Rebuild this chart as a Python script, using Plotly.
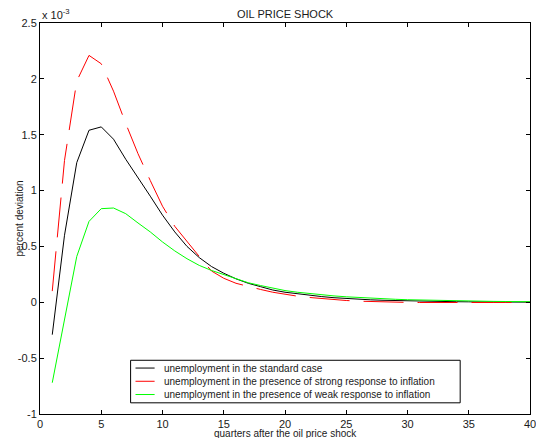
import plotly.graph_objects as go

quarters = list(range(1, 41))

# values in units of 1e-3 (percent deviation)
standard = [-0.29, 0.60, 1.25, 1.54, 1.57, 1.46, 1.28, 1.12, 0.95, 0.78,
            0.63, 0.50, 0.40, 0.32, 0.26, 0.21, 0.17, 0.14, 0.11, 0.09,
            0.075, 0.062, 0.051, 0.041, 0.033, 0.027, 0.022, 0.018, 0.015, 0.012,
            0.010, 0.008, 0.006, 0.005, 0.004, 0.003, 0.002, 0.002, 0.001, 0.001]

strong = [0.10, 1.27, 1.98, 2.21, 2.135, 1.89, 1.60, 1.33, 1.09, 0.86,
          0.68, 0.54, 0.41, 0.28, 0.215, 0.17, 0.14, 0.115, 0.09, 0.07,
          0.055, 0.043, 0.032, 0.024, 0.016, 0.010, 0.006, 0.003, 0.001, -0.001,
          -0.002, -0.003, -0.003, -0.003, -0.003, -0.002, -0.002, -0.001, -0.001, -0.001]

weak = [-0.72, -0.14, 0.41, 0.724, 0.838, 0.844, 0.793, 0.71, 0.63, 0.54,
        0.46, 0.39, 0.33, 0.285, 0.25, 0.21, 0.175, 0.15, 0.125, 0.105,
        0.09, 0.077, 0.066, 0.057, 0.049, 0.042, 0.036, 0.031, 0.027, 0.023,
        0.020, 0.017, 0.015, 0.013, 0.011, 0.009, 0.008, 0.007, 0.006, 0.005]

names = ["unemployment in the standard case",
         "unemployment in the presence of strong response to inflation",
         "unemployment in the presence of weak response to inflation"]
colors = ["#000000", "#ff0000", "#00ff00"]

x_ticks = list(range(0, 41, 5))
y_ticks = [-1, -0.5, 0, 0.5, 1, 1.5, 2, 2.5]
y_tick_text = ["-1", "-0.5", "0", "0.5", "1", "1.5", "2", "2.5"]

FONT = "Liberation Sans, Arial, sans-serif"
TXT = "#1a1a1a"

fig = go.Figure()
fig.add_trace(go.Scatter(x=quarters, y=standard, mode="lines", name=names[0],
                         line=dict(color=colors[0], width=1)))
fig.add_trace(go.Scatter(x=quarters, y=strong, mode="lines", name=names[1],
                         line=dict(color=colors[1], width=1, dash="40px,14px")))
fig.add_trace(go.Scatter(x=quarters, y=weak, mode="lines", name=names[2],
                         line=dict(color=colors[2], width=1)))

axis_common = dict(showline=True, linecolor="black", linewidth=1, mirror="ticks",
                   ticks="inside", ticklen=4, tickcolor="black", showgrid=False,
                   zeroline=False, tickfont=dict(family=FONT, size=11, color=TXT))

fig.update_xaxes(range=[0, 40], tickvals=x_ticks, **axis_common)
fig.update_yaxes(range=[-1, 2.5], tickvals=y_ticks, ticktext=y_tick_text, **axis_common)

# manual legend (box, line samples, labels) in paper coordinates
leg_x0, leg_x1, leg_y0, leg_y1 = 0.1849, 0.8575, 0.0286, 0.1374
row_y = [0.1175, 0.0837, 0.0498]
shapes = [dict(type="rect", xref="paper", yref="paper", x0=leg_x0, x1=leg_x1,
               y0=leg_y0, y1=leg_y1, line=dict(color="black", width=1),
               fillcolor="white", layer="above")]
annotations = []
for name, col, ry in zip(names, colors, row_y):
    shapes.append(dict(type="line", xref="paper", yref="paper", x0=0.1949, x1=0.2339,
                       y0=ry, y1=ry, line=dict(color=col, width=1), layer="above"))
    annotations.append(dict(text=name, x=0.2486, y=ry, xref="paper", yref="paper",
                            xanchor="left", yanchor="middle", showarrow=False,
                            font=dict(family=FONT, size=10, color=TXT)))

annotations += [
    dict(text="x 10<sup>-3</sup>", x=0, y=1, xref="paper", yref="paper",
         xanchor="left", yanchor="bottom", showarrow=False, yshift=0,
         font=dict(family=FONT, size=11, color=TXT)),
    dict(text="OIL PRICE SHOCK", x=0.5, y=1, xref="paper", yref="paper",
         xanchor="center", yanchor="middle", showarrow=False, yshift=9,
         font=dict(family=FONT, size=11, color=TXT)),
    dict(text="quarters after the oil price shock", x=0.5, y=0, xref="paper", yref="paper",
         xanchor="center", yanchor="middle", showarrow=False, yshift=-19,
         font=dict(family=FONT, size=10, color=TXT)),
    dict(text="percent deviation", x=0, y=0.5, xref="paper", yref="paper",
         xanchor="center", yanchor="middle", showarrow=False, xshift=-21, textangle=-90,
         font=dict(family=FONT, size=10, color=TXT)),
]

# the page body adds an 8px offset; size the figure so the page fits the window exactly
fig.update_layout(
    width=536, height=430,
    margin=dict(l=32, r=8, t=15, b=24),
    paper_bgcolor="white", plot_bgcolor="white",
    font=dict(family=FONT, size=10, color=TXT),
    showlegend=False,
    shapes=shapes,
    annotations=annotations,
)

fig.write_html("out.html")
